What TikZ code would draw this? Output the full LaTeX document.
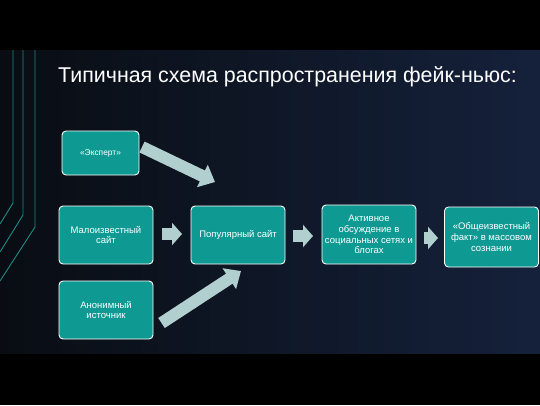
\documentclass[tikz,border=0pt]{standalone}
\usepackage{fontspec}
\setmainfont{Liberation Sans}
\usetikzlibrary{arrows.meta}
\definecolor{bgleft}{HTML}{090D13}
\definecolor{bgright}{HTML}{15213B}
\definecolor{boxfill}{HTML}{0E9A93}
\definecolor{arrfill}{HTML}{B2CFD0}
\definecolor{linecol}{HTML}{1F8A84}
\tikzset{
  x=1pt, y=-1pt,
  box/.style={draw=white, line width=0.9pt, fill=boxfill, rounded corners=4pt,
    text=white, align=center, inner sep=2pt, font=\fontsize{9.5}{10.8}\selectfont},
  bigarrow/.style={draw=arrfill, line width=12pt, line cap=butt,
    -{Triangle[width=24pt,length=14pt]}},
  smallarrow/.style={draw=arrfill, line width=12pt, line cap=butt,
    -{Triangle[width=22pt,length=10pt]}},
  deco/.style={draw=linecol, line width=0.9pt}
}
\begin{document}
\begin{tikzpicture}
\useasboundingbox (0,0) rectangle (540,405);
\fill[black] (0,0) rectangle (540,405);
\shade[left color=bgleft, right color=bgright] (0,50) rectangle (540,353);
% decorative lines
\draw[deco] (13,50) -- (13,203) -- (0,224);
\draw[deco] (23,50) -- (23,215) -- (0,252);
\draw[deco] (35,50) -- (35,227) -- (0,281);
% title
\node[anchor=base west, text=white, font=\fontsize{21.4}{24}\selectfont, inner sep=0pt] (title) at (58,82) {Типичная схема распространения фейк-ньюс:};
% boxes
\node[box, minimum width=77pt, minimum height=44pt, font=\fontsize{8.4}{10}\selectfont] (exp) at (100.5,153) {«Эксперт»};
\node[box, minimum width=94pt, minimum height=58pt] (small) at (106,235) {Малоизвестный\\сайт};
\node[box, minimum width=94pt, minimum height=58pt] (anon) at (106,310) {Анонимный\\источник};
\node[box, minimum width=94pt, minimum height=58pt] (pop) at (238,235) {Популярный сайт};
\node[box, minimum width=94pt, minimum height=59pt] (act) at (369,234.5) {Активное\\обсуждение в\\социальных сетях и\\блогах};
\node[box, minimum width=94pt, minimum height=60pt] (fact) at (491.5,237) {«Общеизвестный\\факт» в массовом\\сознании};
% arrows
\coordinate (e1) at (142,147);
\coordinate (e2) at (215,182);
\draw[bigarrow] (e1) -- (e2);
\coordinate (a1) at (161.5,323);
\coordinate (a2) at (241,271);
\draw[bigarrow] (a1) -- (a2);
\draw[smallarrow] (small.east) ++(9,-1) -- (182,234);
\draw[smallarrow] (pop.east) ++(8,1) -- (313,236);
\draw[smallarrow] (act.east) ++(8,3.5) -- (438,238);
\end{tikzpicture}
\end{document}
